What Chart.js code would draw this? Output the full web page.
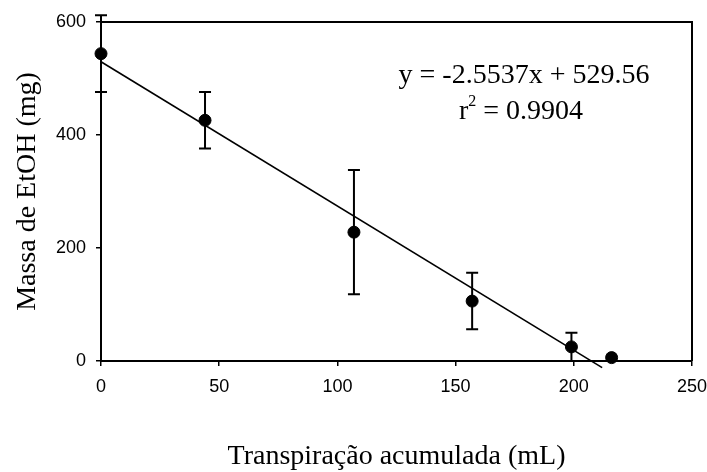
<!DOCTYPE html>
<html>
<head>
<meta charset="utf-8">
<script src="https://cdn.jsdelivr.net/npm/chart.js@4"></script>
<style>
  body { margin: 0; background: #fff; }
  #wrap { width: 707px; height: 472px; }
</style>
</head>
<body>
<div id="wrap"><canvas id="graph"></canvas></div>
<script>
// valores
const transp = [0, 44, 107, 157, 199, 216];
const massa = [544, 426, 228, 106, 25, 6];
const erro = [68, 50, 110, 50, 25, 0];
// reta de regressão y = -2.5537x + 529.56
const retaX = [0, 212];
const retaY = [529.56, -11.8];
const xTicks = [0, 50, 100, 150, 200, 250];
const yTicks = [0, 200, 400, 600];

const serif = "'Liberation Serif', 'Times New Roman', serif";
const sans = "'Liberation Sans', Arial, sans-serif";

const ctx = document.getElementById('graph').getContext('2d');

// caixa + barras de erro + equação
const extras = {
  id: 'extras',
  afterDatasetsDraw(chart) {
    const c = chart.ctx;
    const a = chart.chartArea;
    const xs = chart.scales.x, ys = chart.scales.y;
    c.save();
    c.strokeStyle = '#000';
    c.lineWidth = 2;
    c.beginPath();
    c.moveTo(a.left, a.top);
    c.lineTo(a.right, a.top);
    c.lineTo(a.right, a.bottom);
    c.stroke();

    c.lineWidth = 2;
    transp.forEach((x, i) => {
      if (!erro[i]) return;
      const px = xs.getPixelForValue(x);
      const top = ys.getPixelForValue(massa[i] + erro[i]);
      const bot = ys.getPixelForValue(Math.max(0, massa[i] - erro[i]));
      c.beginPath();
      c.moveTo(px, top); c.lineTo(px, bot);
      c.moveTo(px - 6, top); c.lineTo(px + 6, top);
      c.moveTo(px - 6, bot); c.lineTo(px + 6, bot);
      c.stroke();
    });

    c.fillStyle = '#000';
    c.font = '28px ' + serif;
    c.textAlign = 'center';
    c.textBaseline = 'alphabetic';
    c.fillText('y = -2.5537x + 529.56', 524, 83);
    // r² com expoente
    const s1 = 'r', s3 = ' = 0.9904';
    c.font = '28px ' + serif;
    const w1 = c.measureText(s1).width, w3 = c.measureText(s3).width;
    c.font = '16px ' + serif;
    const w2 = c.measureText('2').width;
    let x0 = 521 - (w1 + w2 + w3) / 2;
    c.textAlign = 'left';
    c.font = '28px ' + serif;
    c.fillText(s1, x0, 119);
    c.font = '16px ' + serif;
    c.fillText('2', x0 + w1, 106);
    c.font = '28px ' + serif;
    c.fillText(s3, x0 + w1 + w2, 119);
    c.restore();
  }
};

const chart = new Chart(ctx, {
  type: 'scatter',
  data: {
    datasets: [{
      label: 'reta',
      type: 'line',
      data: retaX.map((x, i) => ({ x: x, y: retaY[i] })),
      borderColor: '#000',
      borderWidth: 1.6,
      pointRadius: 0,
      fill: false,
      clip: false
    }, {
      label: 'Massa de EtOH',
      data: transp.map((x, i) => ({ x: x, y: massa[i] })),
      backgroundColor: '#000',
      borderColor: '#000',
      pointRadius: 6,
      clip: false
    }]
  },
  options: {
    responsive: true,
    maintainAspectRatio: false,
    animation: false,
    layout: { padding: { top: 22, right: 15, bottom: 0, left: 0 } },
    plugins: { legend: { display: false }, tooltip: { enabled: false } },
    scales: {
      x: {
        type: 'linear',
        min: 0, max: 250,
        afterBuildTicks: s => { s.ticks = xTicks.map(v => ({ value: v })); },
        afterFit: s => { s.height = 111; s.paddingLeft = 0; s.paddingRight = 0; },
        grid: { drawOnChartArea: false, tickLength: 5, color: '#000', lineWidth: 1.5 },
        border: { color: '#000', width: 2 },
        ticks: { color: '#000', font: { family: sans, size: 18 }, padding: 10, maxRotation: 0 },
        title: { display: true, text: 'Transpiração acumulada (mL)', color: '#000',
                 font: { family: serif, size: 28, lineHeight: 1 }, padding: { top: 0, bottom: 1 } }
      },
      y: {
        min: 0, max: 600,
        afterBuildTicks: s => { s.ticks = yTicks.map(v => ({ value: v })); },
        afterFit: s => { s.width = 101; s.paddingTop = 0; s.paddingBottom = 0; },
        grid: { drawOnChartArea: false, tickLength: 5, color: '#000', lineWidth: 1.5 },
        border: { color: '#000', width: 2 },
        ticks: { color: '#000', font: { family: sans, size: 18 }, padding: 10 },
        title: { display: true, text: 'Massa de EtOH (mg)', color: '#000',
                 font: { family: serif, size: 28 }, padding: { top: 11, bottom: 0 } }
      }
    }
  },
  plugins: [extras]
});
</script>
</body>
</html>
